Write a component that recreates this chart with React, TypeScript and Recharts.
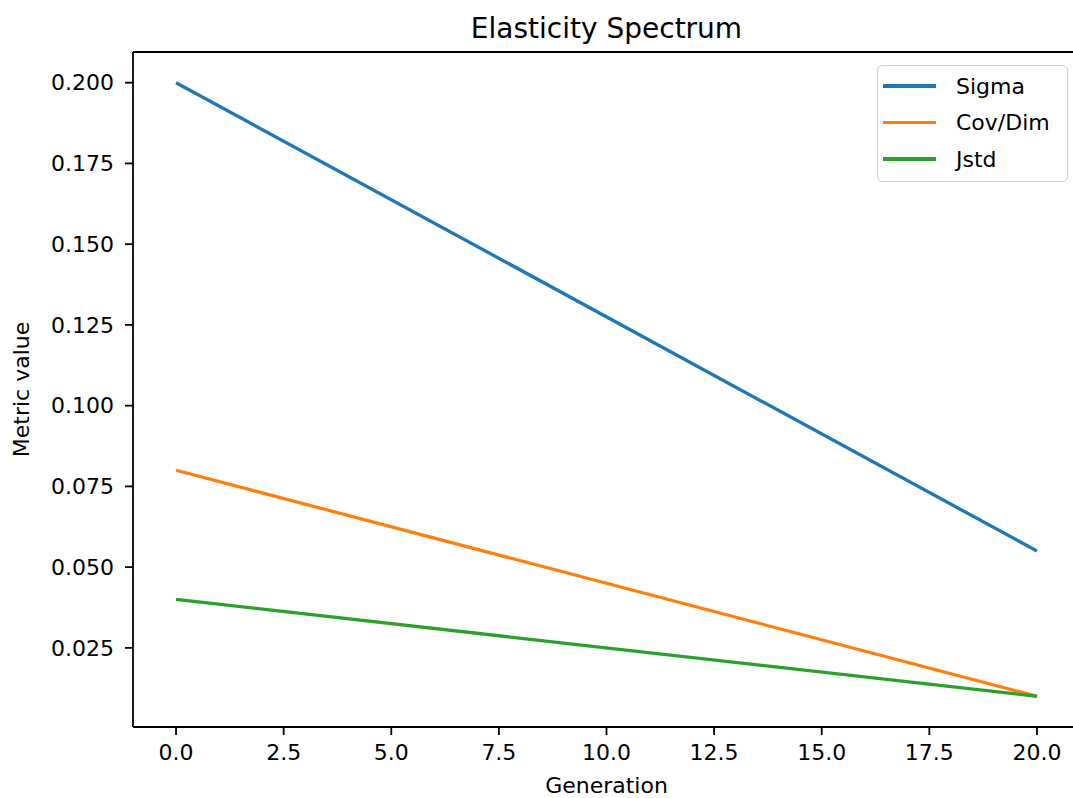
import { LineChart, Line, XAxis, YAxis, ReferenceLine } from 'recharts';

const generations = [0, 20];
const sigma = [0.2, 0.055];
const covDim = [0.08, 0.01];
const jstd = [0.04, 0.01];

const xTicks = [0, 2.5, 5, 7.5, 10, 12.5, 15, 17.5, 20];
const yTicks = [0.025, 0.05, 0.075, 0.1, 0.125, 0.15, 0.175, 0.2];

const series = [
  { key: 'sigma', name: 'Sigma', color: '#1f77b4' },
  { key: 'covDim', name: 'Cov/Dim', color: '#ff7f0e' },
  { key: 'jstd', name: 'Jstd', color: '#2ca02c' },
];

const data = generations.map((g, i) => ({
  gen: g,
  sigma: sigma[i],
  covDim: covDim[i],
  jstd: jstd[i],
}));

const font = '"DejaVu Sans", sans-serif';
const tickStyle = { fontSize: 22, fill: '#000', fontFamily: font };

const App = () => {
  return (
    <div
      style={{
        position: 'absolute',
        left: 0,
        top: 0,
        width: 1073,
        height: 798,
        overflow: 'hidden',
        background: '#fff',
        fontFamily: font,
      }}
    >
      <div
        style={{
          position: 'absolute',
          top: 12,
          left: 133,
          width: 947,
          textAlign: 'center',
          fontSize: 28,
          color: '#000',
        }}
      >
        Elasticity Spectrum
      </div>
      <LineChart
        width={1090}
        height={798}
        data={data}
        margin={{ top: 52, right: 10, left: 0, bottom: 0 }}
      >
        <XAxis
          dataKey="gen"
          type="number"
          domain={[-1, 21]}
          ticks={xTicks}
          tickFormatter={(v: number) => v.toFixed(1)}
          height={71}
          tick={tickStyle}
          tickSize={8}
          tickMargin={9}
          axisLine={{ stroke: '#000', strokeWidth: 1.8 }}
          tickLine={{ stroke: '#000', strokeWidth: 1.8 }}
          label={{
            value: 'Generation',
            position: 'insideBottom',
            offset: 5,
            style: { fontSize: 22, fill: '#000', fontFamily: font },
          }}
        />
        <YAxis
          type="number"
          domain={[0.0005, 0.2095]}
          ticks={yTicks}
          tickFormatter={(v: number) => v.toFixed(3)}
          width={133}
          tick={tickStyle}
          tickSize={8}
          tickMargin={11}
          axisLine={{ stroke: '#000', strokeWidth: 1.8 }}
          tickLine={{ stroke: '#000', strokeWidth: 1.8 }}
          label={{
            value: 'Metric value',
            angle: -90,
            position: 'insideLeft',
            offset: 21,
            style: { fontSize: 22, fill: '#000', fontFamily: font, textAnchor: 'middle' },
          }}
        />
        <ReferenceLine y={0.2095} stroke="#000" strokeWidth={1.8} />
        <ReferenceLine x={21} stroke="#000" strokeWidth={1.8} />
        {series.map((s) => (
          <Line
            key={s.key}
            type="linear"
            dataKey={s.key}
            name={s.name}
            stroke={s.color}
            strokeWidth={3.3}
            dot={false}
            isAnimationActive={false}
          />
        ))}
      </LineChart>
      <div
        style={{
          position: 'absolute',
          left: 877,
          top: 65,
          width: 189,
          height: 115,
          border: '1px solid #d0d0d0',
          borderRadius: 5,
          background: 'rgba(255,255,255,0.8)',
        }}
      >
        {series.map((s, i) => (
          <div
            key={s.key}
            style={{
              position: 'absolute',
              left: 5,
              top: 20 + i * 36.5 - 14,
              height: 28,
              display: 'flex',
              alignItems: 'center',
            }}
          >
            <div style={{ width: 53, height: 3.3, background: s.color }} />
            <span style={{ marginLeft: 20, fontSize: 22, color: '#000' }}>{s.name}</span>
          </div>
        ))}
      </div>
    </div>
  );
};

export default App;
